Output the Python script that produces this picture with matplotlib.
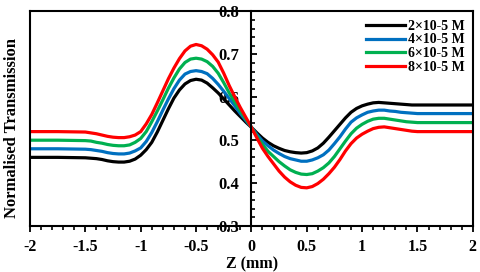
import matplotlib
matplotlib.use("Agg")
import matplotlib.pyplot as plt
from matplotlib.ticker import MultipleLocator

plt.rcParams['font.family'] = ['Liberation Serif', 'DejaVu Serif']
plt.rcParams['font.weight'] = 'bold'

# Z positions (mm) and normalised transmission
z = [-2.0, -1.75,
     -1.5, -1.45, -1.4, -1.35, -1.3, -1.25, -1.2, -1.15, -1.1, -1.05,
     -1.0, -0.95, -0.9, -0.85, -0.8, -0.75, -0.7, -0.65, -0.6, -0.55,
     -0.5, -0.45, -0.4, -0.35, -0.3, -0.25, -0.2, -0.15, -0.1, -0.05,
     0.0, 0.05, 0.1, 0.15, 0.2, 0.25, 0.3, 0.35, 0.4, 0.45,
     0.5, 0.55, 0.6, 0.65, 0.7, 0.75, 0.8, 0.85, 0.9, 0.95,
     1.0, 1.05, 1.1, 1.15, 1.2, 1.25, 1.3, 1.35, 1.4, 1.45,
     1.5, 1.75, 2.0]

t_2e5 = [0.460, 0.460,
         0.459, 0.458, 0.457, 0.455, 0.452, 0.450, 0.449, 0.449, 0.451, 0.456,
         0.465, 0.478, 0.495, 0.519, 0.546, 0.573, 0.598, 0.617, 0.631, 0.639,
         0.642, 0.640, 0.633, 0.622, 0.610, 0.596, 0.582, 0.568, 0.555, 0.542,
         0.530, 0.517, 0.505, 0.495, 0.487, 0.481, 0.476, 0.473, 0.471, 0.470,
         0.471, 0.475, 0.482, 0.493, 0.507, 0.522, 0.537, 0.552, 0.565, 0.574,
         0.580, 0.584, 0.587, 0.588, 0.587, 0.586, 0.585, 0.584, 0.583, 0.582,
         0.582, 0.582, 0.582]

t_4e5 = [0.480, 0.480,
         0.479, 0.478, 0.476, 0.474, 0.471, 0.469, 0.468, 0.468, 0.470, 0.475,
         0.482, 0.497, 0.518, 0.543, 0.570, 0.596, 0.620, 0.640, 0.654, 0.660,
         0.662, 0.660, 0.655, 0.644, 0.630, 0.614, 0.597, 0.580, 0.562, 0.546,
         0.530, 0.513, 0.498, 0.487, 0.477, 0.469, 0.462, 0.457, 0.454, 0.451,
         0.451, 0.454, 0.459, 0.466, 0.477, 0.492, 0.508, 0.526, 0.542, 0.552,
         0.559, 0.565, 0.568, 0.570, 0.570, 0.568, 0.567, 0.565, 0.564, 0.563,
         0.562, 0.562, 0.562]

t_6e5 = [0.500, 0.500,
         0.499, 0.498, 0.495, 0.493, 0.490, 0.488, 0.487, 0.487, 0.489, 0.495,
         0.504, 0.520, 0.543, 0.568, 0.594, 0.621, 0.645, 0.666, 0.681, 0.689,
         0.691, 0.689, 0.683, 0.672, 0.656, 0.634, 0.610, 0.589, 0.568, 0.549,
         0.530, 0.509, 0.490, 0.474, 0.462, 0.450, 0.440, 0.431, 0.425, 0.421,
         0.420, 0.422, 0.428, 0.436, 0.447, 0.462, 0.480, 0.498, 0.515, 0.528,
         0.537, 0.544, 0.549, 0.551, 0.551, 0.549, 0.547, 0.545, 0.543, 0.542,
         0.541, 0.541, 0.541]

t_8e5 = [0.520, 0.520,
         0.519, 0.517, 0.515, 0.512, 0.509, 0.507, 0.506, 0.506, 0.508, 0.512,
         0.520, 0.538, 0.560, 0.587, 0.615, 0.643, 0.668, 0.690, 0.708, 0.719,
         0.723, 0.720, 0.712, 0.699, 0.682, 0.656, 0.627, 0.601, 0.576, 0.553,
         0.530, 0.505, 0.481, 0.462, 0.445, 0.428, 0.414, 0.403, 0.395, 0.390,
         0.389, 0.392, 0.399, 0.409, 0.422, 0.437, 0.455, 0.475, 0.492, 0.505,
         0.514, 0.521, 0.527, 0.530, 0.531, 0.529, 0.527, 0.525, 0.523, 0.521,
         0.520, 0.520, 0.520]

labels = ['2×10-5 M', '4×10-5 M', '6×10-5 M', '8×10-5 M']
colors = ['#000000', '#0070C0', '#00B050', '#FF0000']

fig = plt.figure(figsize=(4.8, 2.72), dpi=100)
ax = fig.add_axes([0.0625, 0.169, 0.9225, 0.789])

for y, lab, c in zip([t_2e5, t_4e5, t_6e5, t_8e5], labels, colors):
    ax.plot(z, y, color=c, lw=2.3, label=lab, solid_joinstyle='round')

ax.set_xlim(-2, 2)
ax.set_ylim(0.3, 0.8)

# y axis sits at Z = 0, frame drawn around the plot
ax.spines['left'].set_position(('data', 0))
for s in ['left', 'right', 'top', 'bottom']:
    ax.spines[s].set_linewidth(1.5)
ax.plot([0, 0], [0, 1], color='black', lw=1.5, transform=ax.transAxes, clip_on=False)

ax.xaxis.set_minor_locator(MultipleLocator(0.1))
ax.yaxis.set_minor_locator(MultipleLocator(0.02))

ax.set_xticks([-2, -1.5, -1, -0.5, 0, 0.5, 1, 1.5, 2])
ax.set_xticklabels(['-2', '-1.5', '-1', '-0.5', '0', '0.5', '1', '1.5', '2'])
ax.set_yticks([0.3, 0.4, 0.5, 0.6, 0.7, 0.8])
ax.set_yticklabels(['0.3', '0.4', '0.5', '0.6', '0.7', '0.8'])

ax.tick_params(axis='x', which='major', direction='out', length=4, width=1.3, pad=5, labelsize=11.5)
ax.tick_params(axis='x', which='minor', direction='out', length=3, width=1.2)
ax.tick_params(axis='y', which='major', direction='in', length=4, width=1.3, pad=9, labelsize=12)
ax.tick_params(axis='y', which='minor', direction='in', length=3, width=1.2)

fig.text(0.525, 1 - 264 / 272, 'Z (mm)', ha='center', va='center',
         fontsize=11.5, fontweight='bold')
fig.text(0.025, 1 - 127.5 / 272, 'Normalised Transmission', rotation=90, ha='center',
         va='center', fontsize=12, fontweight='bold')

ax.legend(loc='upper right', frameon=False, handlelength=2.8,
          handletextpad=0.2, labelspacing=0.05, borderaxespad=0.2,
          prop={'weight': 'bold', 'size': 10})

fig.savefig('out.png', dpi=100)
